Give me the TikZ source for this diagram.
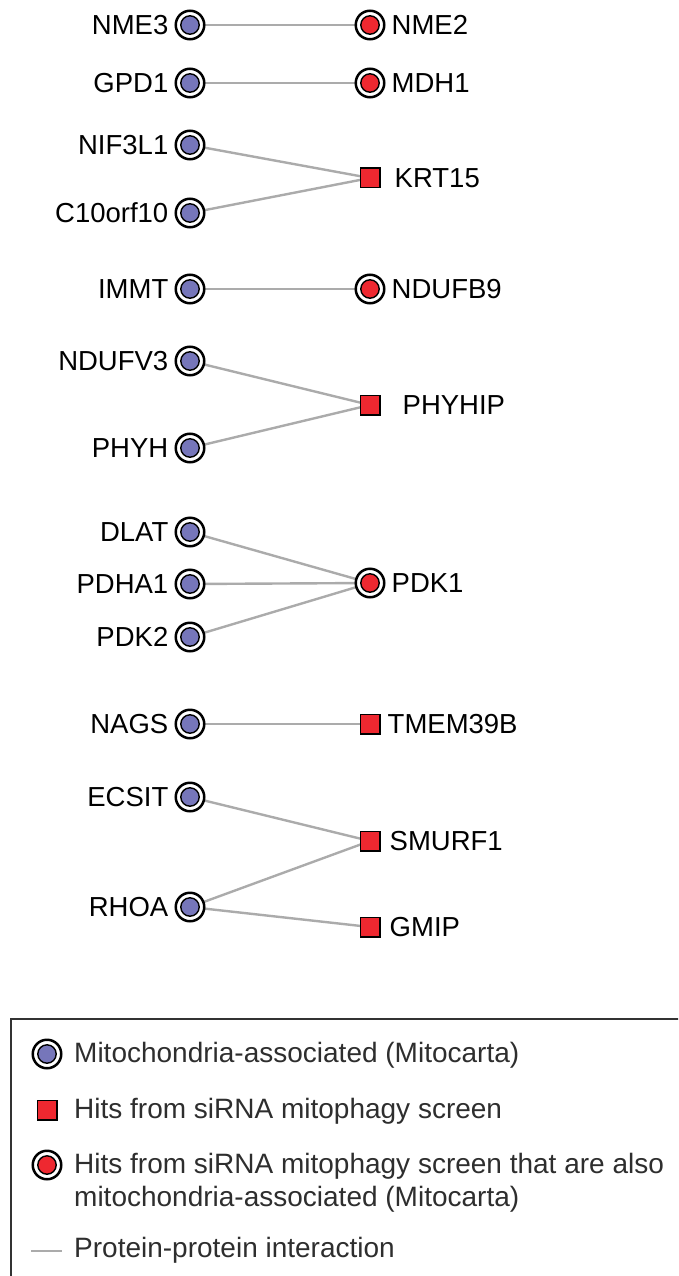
\documentclass[tikz,border=0pt]{standalone}
\usepackage{fontspec}
\setmainfont{Liberation Sans}
\usetikzlibrary{backgrounds}
\definecolor{mblue}{HTML}{7676BA}
\definecolor{mred}{HTML}{EE2830}
\definecolor{edgegray}{HTML}{ABABAB}
\definecolor{legtext}{HTML}{2E2E2E}
\definecolor{boxgray}{HTML}{333333}
\tikzset{
  dbl/.style={circle, draw=black, line width=2.5pt, fill=white, minimum size=28.5pt, inner sep=0pt,
    path picture={\draw[fill=#1, line width=1.4pt] (path picture bounding box.center) circle (9.2pt);}},
  mito/.style={dbl=mblue},
  both/.style={dbl=mred},
  hit/.style={rectangle, draw=black, line width=1.5pt, fill=mred, minimum size=19.5pt, inner sep=0pt},
  ppi/.style={draw=edgegray, line width=2.4pt},
  lbl/.style={font=\fontsize{27.5}{30}\selectfont, inner sep=0pt, text height=19.8pt, text depth=0pt},
  lt/.style={label={[lbl, label distance=6pt]left:#1}},
  rt/.style={label={[lbl, label distance=6pt]right:#1}},
  legtxt/.style={font=\fontsize{28}{33}\selectfont, text=legtext, inner sep=0pt, anchor=base west, align=left},
}
\begin{document}
\begin{tikzpicture}[x=1pt, y=-1pt]
\useasboundingbox (0,0) rectangle (678,1276);
\clip (0,0) rectangle (678,1276);
% nodes
\node[mito, lt=NME3] (nme3) at (190,25) {};
\node[both, rt=NME2] (nme2) at (370,25) {};
\node[mito, lt=GPD1] (gpd1) at (190,83) {};
\node[both, rt=MDH1] (mdh1) at (370,83) {};
\node[mito, lt=NIF3L1] (nif3l1) at (190,145) {};
\node[mito, lt=C10orf10] (c10) at (190,213) {};
\node[hit, label={[lbl, label distance=14pt]right:KRT15}] (krt15) at (370,178) {};
\node[mito, lt=IMMT] (immt) at (190,289) {};
\node[both, rt=NDUFB9] (ndufb9) at (370,289) {};
\node[mito, lt=NDUFV3] (ndufv3) at (190,361) {};
\node[mito, lt=PHYH] (phyh) at (190,448) {};
\node[hit, label={[lbl, label distance=22pt]right:PHYHIP}] (phyhip) at (370,405) {};
\node[mito, lt=DLAT] (dlat) at (190,532) {};
\node[mito, lt=PDHA1] (pdha1) at (190,584) {};
\node[mito, lt=PDK2] (pdk2) at (190,637) {};
\node[both, rt=PDK1] (pdk1) at (370,583) {};
\node[mito, lt=NAGS] (nags) at (190,724) {};
\node[hit, label={[lbl, label distance=7pt]right:TMEM39B}] (tmem) at (370,724) {};
\node[mito, lt=ECSIT] (ecsit) at (190,797) {};
\node[mito, lt=RHOA] (rhoa) at (190,907) {};
\node[hit, label={[lbl, label distance=9pt]right:SMURF1}] (smurf1) at (370,841) {};
\node[hit, label={[lbl, label distance=9pt]right:GMIP}] (gmip) at (370,927) {};
% edges
\begin{scope}[on background layer]
\draw[ppi] (nme3.center) -- (nme2.center);
\draw[ppi] (gpd1.center) -- (mdh1.center);
\draw[ppi] (nif3l1.center) -- (krt15.center);
\draw[ppi] (c10.center) -- (krt15.center);
\draw[ppi] (immt.center) -- (ndufb9.center);
\draw[ppi] (ndufv3.center) -- (phyhip.center);
\draw[ppi] (phyh.center) -- (phyhip.center);
\draw[ppi] (dlat.center) -- (pdk1.center);
\draw[ppi] (pdha1.center) -- (pdk1.center);
\draw[ppi] (pdk2.center) -- (pdk1.center);
\draw[ppi] (nags.center) -- (tmem.center);
\draw[ppi] (ecsit.center) -- (smurf1.center);
\draw[ppi] (rhoa.center) -- (smurf1.center);
\draw[ppi] (rhoa.center) -- (gmip.center);
\end{scope}
% legend
\node[draw=boxgray, line width=2.4pt, minimum width=700pt, minimum height=300pt, anchor=north west, inner sep=0pt] (legbox) at (10,1018) {};
\node[mito] (l1) at (47,1054) {};
\node[legtxt] (t1) at (74,1062) {Mitochondria-associated (Mitocarta)};
\node[hit] (l2) at (47,1110) {};
\node[legtxt] (t2) at (74,1118) {Hits from siRNA mitophagy screen};
\node[both] (l3) at (47,1165) {};
\node[legtxt] (t3) at (74,1206) {Hits from siRNA mitophagy screen that are also\\mitochondria-associated (Mitocarta)};
\coordinate (la) at (31,1251);
\coordinate (lb) at (62,1251);
\draw[ppi] (la) -- (lb);
\node[legtxt] (t4) at (74,1257) {Protein-protein interaction};
\end{tikzpicture}
\end{document}
